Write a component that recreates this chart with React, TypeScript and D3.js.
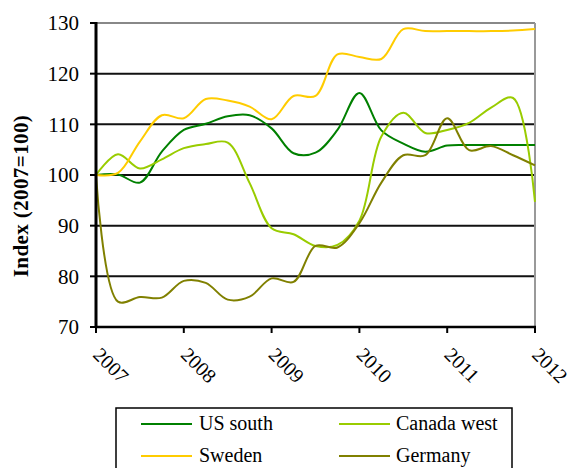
import React from "react";
import * as d3 from "d3";

const quarters = [
  2007, 2007.25, 2007.5, 2007.75, 2008, 2008.25, 2008.5, 2008.75, 2009, 2009.25, 2009.5,
  2009.75, 2010, 2010.25, 2010.5, 2010.75, 2011, 2011.25, 2011.5, 2011.75, 2012,
];
const usSouth = [100, 100.1, 98.5, 104.6, 108.9, 110.1, 111.6, 111.8, 109.2, 104.3, 104.4, 108.9, 116.2, 108.8, 106.2, 104.6, 105.8, 105.9, 105.9, 105.9, 105.9];
const canadaWest = [100, 104.1, 101.3, 103.1, 105.3, 106.1, 106.4, 98.4, 89.5, 88.3, 86.0, 86.2, 91.0, 107.6, 112.3, 108.3, 108.9, 110.3, 113.3, 115.2, 94.7];
const sweden = [100, 100.4, 106.6, 111.8, 111.2, 115.0, 114.7, 113.5, 111.0, 115.6, 115.6, 123.8, 123.3, 122.9, 128.8, 128.4, 128.4, 128.4, 128.4, 128.5, 128.8];
const germany = [100, 75.0, 75.9, 75.8, 79.1, 78.7, 75.4, 76.0, 79.6, 78.9, 86.0, 85.7, 90.5, 98.5, 103.9, 103.9, 111.2, 104.9, 105.7, 103.9, 101.9];

const yearTicks = [2007, 2008, 2009, 2010, 2011, 2012];
const valueTicks = [70, 80, 90, 100, 110, 120, 130];
const yTitle = "Index (2007=100)";

const series = [
  { name: "US south", values: usSouth, color: "#008000" },
  { name: "Canada west", values: canadaWest, color: "#99CC00" },
  { name: "Sweden", values: sweden, color: "#FFCC00" },
  { name: "Germany", values: germany, color: "#808000" },
];

const W = 571;
const H = 468;
const FONT = "Liberation Serif, DejaVu Serif, serif";

export default function App() {
  const x = d3.scaleLinear().domain([2007, 2012]).range([96, 535]);
  const y = d3.scaleLinear().domain([70, 130]).range([327, 23]);
  const line = d3
    .line<[number, number]>()
    .x((d) => x(d[0]))
    .y((d) => y(d[1]))
    .curve(d3.curveCatmullRom.alpha(0.5));

  const legendPos = [
    { lx: 141, tx: 199, ly: 424 },
    { lx: 339, tx: 396, ly: 424 },
    { lx: 141, tx: 199, ly: 456 },
    { lx: 339, tx: 396, ly: 456 },
  ];

  return (
    <svg
      width={W}
      height={H}
      style={{ position: "absolute", left: 0, top: 0, background: "#fff", fontFamily: FONT }}
    >
      {valueTicks.slice(1, -1).map((v) => (
        <line key={v} x1={x(2007)} x2={x(2012)} y1={y(v)} y2={y(v)} stroke="#111" strokeWidth={2} />
      ))}
      <line x1={x(2007)} x2={x(2012)} y1={y(130)} y2={y(130)} stroke="#888" strokeWidth={2} />
      <line x1={x(2012)} x2={x(2012)} y1={y(130)} y2={y(70)} stroke="#999" strokeWidth={2} />

      {series.map((s) => (
        <path
          key={s.name}
          d={line(quarters.map((q, i) => [q, s.values[i]]) as [number, number][]) || ""}
          fill="none"
          stroke={s.color}
          strokeWidth={2}
        />
      ))}

      <line x1={x(2007)} x2={x(2007)} y1={y(130) - 1} y2={y(70) + 1} stroke="#000" strokeWidth={3} />
      <line x1={x(2007) - 1} x2={x(2012) + 1} y1={y(70)} y2={y(70)} stroke="#000" strokeWidth={2.5} />
      {valueTicks.map((v) => (
        <g key={v}>
          <line x1={x(2007) - 6} x2={x(2007)} y1={y(v)} y2={y(v)} stroke="#000" strokeWidth={2} />
          <text x={79} y={y(v)} dy="0.35em" textAnchor="end" fontSize={21} fill="#000" style={{ fontFamily: FONT }}>
            {v}
          </text>
        </g>
      ))}
      {yearTicks.map((t) => (
        <g key={t}>
          <line x1={x(t)} x2={x(t)} y1={y(70)} y2={y(70) + 6} stroke="#000" strokeWidth={2} />
          <text transform={`translate(${x(t) - 4},${356}) rotate(45)`} fontSize={20} fill="#000" style={{ fontFamily: FONT }}>
            {t}
          </text>
        </g>
      ))}
      <text
        transform={`translate(28,${196}) rotate(-90)`}
        textAnchor="middle"
        fontSize={21}
        fontWeight="bold"
        letterSpacing={0.4}
        fill="#000"
        style={{ fontFamily: FONT }}
      >
        {yTitle}
      </text>

      <rect x={116} y={408} width={396} height={90} fill="#fff" stroke="#000" strokeWidth={1.5} />
      {series.map((s, i) => (
        <g key={s.name}>
          <line x1={legendPos[i].lx} x2={legendPos[i].lx + 51} y1={legendPos[i].ly} y2={legendPos[i].ly} stroke={s.color} strokeWidth={2} />
          <text x={legendPos[i].tx} y={legendPos[i].ly + 6} fontSize={20} fill="#000" style={{ fontFamily: FONT }}>
            {s.name}
          </text>
        </g>
      ))}
    </svg>
  );
}
